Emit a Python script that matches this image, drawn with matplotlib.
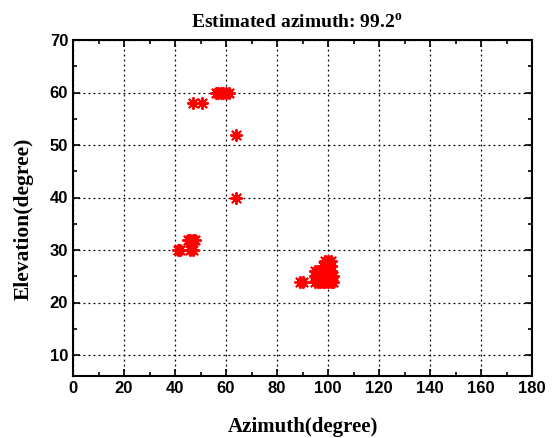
import matplotlib
matplotlib.use("Agg")
import matplotlib.pyplot as plt
from matplotlib.ticker import MultipleLocator

# Data (azimuth, elevation)
az_pts = [47, 50.5, 56, 57, 58, 59, 60, 61, 64, 64,
          41, 42, 46, 47, 45, 46, 47, 48,
          89, 90,
          95, 96, 97, 98, 99, 100, 101, 102,
          95, 97, 99, 100, 101, 102,
          95, 96, 97, 99, 100, 101,
          98, 99, 100, 101,
          99, 100, 101]
el_pts = [58, 58, 60, 60, 60, 60, 60, 60, 52, 40,
          30, 30, 30, 30, 32, 32, 32, 32,
          24, 24,
          24, 24, 24, 24, 24, 24, 24, 24,
          25, 25, 25, 25, 25, 25,
          26, 26, 26, 26, 26, 26,
          27, 27, 27, 27,
          28, 28, 28]

x_ticks = [0, 20, 40, 60, 80, 100, 120, 140, 160, 180]
y_ticks = [10, 20, 30, 40, 50, 60, 70]
title = "Estimated azimuth: 99.2$^{\\mathregular{o}}$"
xlabel = "Azimuth(degree)"
ylabel = "Elevation(degree)"

fig = plt.figure(figsize=(5.55, 4.38), dpi=100)
ax = fig.add_axes([73/555, 1-376/438, (532-73)/555, (376-40)/438])

ax.scatter(az_pts, el_pts, marker=(8, 2, 0), s=66, c="red", linewidths=1.4, zorder=3)

ax.set_xlim(0, 180)
ax.set_ylim(6, 70)
ax.set_xticks(x_ticks)
ax.set_yticks(y_ticks)
ax.xaxis.set_minor_locator(MultipleLocator(10))
ax.yaxis.set_minor_locator(MultipleLocator(5))
ax.tick_params(which="both", direction="in", top=True, right=True, width=1.2)
ax.tick_params(which="major", length=5)
ax.tick_params(which="minor", length=3)
for lab in ax.get_xticklabels() + ax.get_yticklabels():
    lab.set_fontfamily("Liberation Sans")
    lab.set_fontweight("bold")
    lab.set_fontsize(12)
for sp in ax.spines.values():
    sp.set_linewidth(1.5)
ax.grid(True, which="major", linestyle=(0, (1.5, 2.5)), color="black", linewidth=0.9)

serif = dict(fontfamily="Liberation Serif", fontweight="bold")
ax.set_title(title, fontsize=14, pad=8.5, x=0.487, **serif)
ax.set_xlabel(xlabel, fontsize=15, **serif)
ax.set_ylabel(ylabel, fontsize=15.5, **serif)
ax.xaxis.set_label_coords(0.5, -0.122)
ax.yaxis.set_label_coords(-0.085, 0.467)

fig.savefig("out.png", dpi=100)
